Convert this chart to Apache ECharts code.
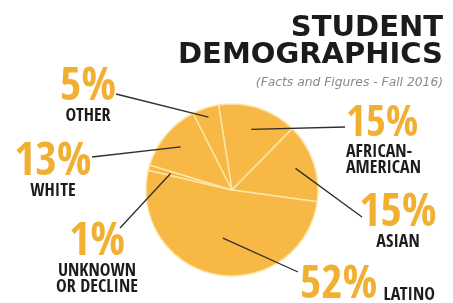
<!DOCTYPE html>
<html>
<head>
<meta charset="utf-8">
<script src="https://cdn.jsdelivr.net/npm/echarts@6/dist/echarts.min.js"></script>
<style>
  html, body { margin: 0; padding: 0; background: #fff; }
  #chart { width: 453px; height: 303px; }
</style>
</head>
<body>
<div id="chart"></div>
<script>
// data (clockwise from the top)
const groups = ["AFRICAN-\nAMERICAN", "ASIAN", "LATINO", "UNKNOWN\nOR DECLINE", "WHITE", "OTHER"];
const shares = [15, 15, 52, 1, 13, 5];

const narrow = '"Open Sans Condensed", "Roboto Condensed", sans-serif';
const gold = "#F2B032";

// label placement: x, y, align, leader end offset (dx, dy), leader start depth
const spots = [
  [346, 106, "left", -1, 21, 0.74],
  [398, 194, "center", -36, 23, 0.78],
  [300, 266, "left", -2, 6, 0.57],
  [97, 223, "center", 23, 5, 0.74],
  [53, 143, "center", 39, 14, 0.78],
  [88, 68, "center", 28, 26, 0.89]
];

const slices = groups.map((g, i) => ({ name: g, value: shares[i] }));

const chart = echarts.init(document.getElementById("chart"));

chart.setOption({
  animation: false,
  backgroundColor: "#fff",
  title: {
    text: "STUDENT\nDEMOGRAPHICS",
    subtext: "(Facts and Figures - Fall 2016)",
    left: "right",
    top: 10,
    padding: [5, 10, 5, 5],
    itemGap: 6,
    textStyle: {
      fontFamily: '"DejaVu Sans", sans-serif',
      fontWeight: "bold",
      fontSize: 29,
      lineHeight: 27,
      color: "#1b1b1b"
    },
    subtextStyle: {
      fontFamily: '"DejaVu Sans", sans-serif',
      fontStyle: "italic",
      fontSize: 12.3,
      color: "#8a8a8a"
    }
  },
  series: [
    {
      type: "pie",
      center: [232, 190],
      radius: 86,
      startAngle: 99,
      clockwise: true,
      silent: true,
      avoidLabelOverlap: false,
      data: slices,
      itemStyle: { color: "#F8B845", borderColor: "#FCE6A6", borderWidth: 1.5 },
      label: {
        show: true,
        position: "outside",
        formatter: (p) => {
          if (p.dataIndex === 2) return "{p|" + p.value + "%}{s|" + p.name + "}";
          const key = p.dataIndex === 0 ? "q" : "p";
          return "{" + key + "|" + p.value + "%}\n{n|" + p.name + "}";
        },
        rich: {
          p: { fontFamily: narrow, fontWeight: "bold", fontSize: 46, lineHeight: 40, color: gold },
          q: { fontFamily: narrow, fontWeight: "bold", fontSize: 43, lineHeight: 38, color: gold },
          n: { fontFamily: narrow, fontWeight: "bold", fontSize: 18, lineHeight: 16, color: "#1c1c1c" },
          s: { fontFamily: narrow, fontWeight: "bold", fontSize: 18, lineHeight: 40, color: "#1c1c1c", verticalAlign: "bottom", padding: [0, 0, 2, 6] }
        }
      },
      labelLine: { show: false },
      labelLayout: (params) => {
        const s = spots[params.dataIndex];
        return { x: s[0], y: s[1], align: s[2], verticalAlign: "top" };
      }
    }
  ]
});

// leader lines: start inside each slice (from the pie's own layout), end at its label
function drawLeaders() {
  const data = chart.getModel().getSeriesByIndex(0).getData();
  const lines = [];
  spots.forEach((s, i) => {
    const lay = data.getItemLayout(i);
    if (!lay) return;
    const mid = (lay.startAngle + lay.endAngle) / 2;
    const r = lay.r * s[5];
    lines.push({
      type: "line",
      z: 100,
      silent: true,
      shape: {
        x1: lay.cx + r * Math.cos(mid),
        y1: lay.cy + r * Math.sin(mid),
        x2: s[0] + s[3],
        y2: s[1] + s[4]
      },
      style: { stroke: "#2e2e2e", lineWidth: 1.3 }
    });
  });
  chart.setOption({ graphic: lines });
}
drawLeaders();
</script>
</body>
</html>
